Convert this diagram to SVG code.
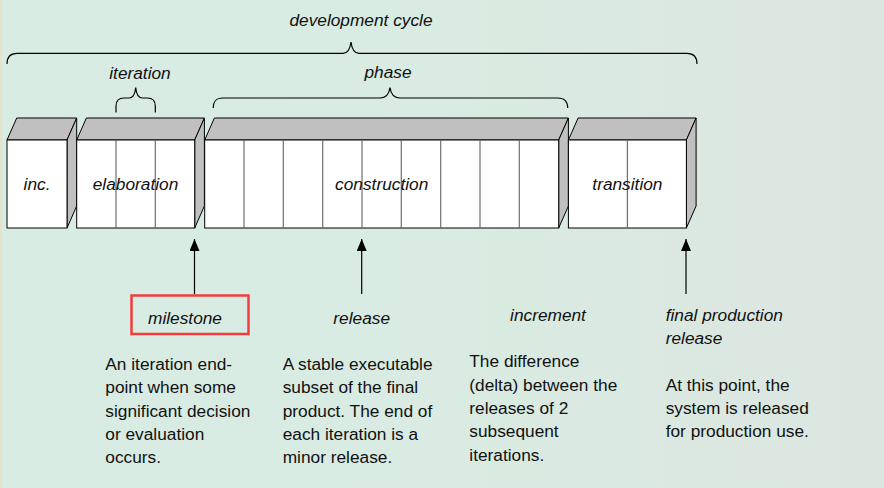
<svg xmlns="http://www.w3.org/2000/svg" width="884" height="488" viewBox="0 0 884 488">
<defs>
<linearGradient id="bg" x1="0" y1="0" x2="1" y2="0">
<stop offset="0" stop-color="#d8ece3"/>
<stop offset="0.5" stop-color="#d9ebe2"/>
<stop offset="1" stop-color="#dce6e0"/>
</linearGradient>
<marker id="arr" viewBox="0 0 12 10" refX="12" refY="5" markerWidth="12" markerHeight="10" markerUnits="userSpaceOnUse" orient="auto">
<path d="M0,0 L12,5 L0,10 Z" fill="#000"/>
</marker>
</defs>
<style>
.front{fill:#fff;stroke:#000;stroke-width:1}
.shade{fill:#c0c0c0;stroke:#000;stroke-width:1;stroke-linejoin:round}
.div{stroke:#6e6e6e;stroke-width:1.2}
.brace{fill:none;stroke:#000;stroke-width:1.2}
.lbl{font-family:"Liberation Sans",Arial,sans-serif;font-style:italic;font-size:17.3px;fill:#111}
.mid{text-anchor:middle}
.desc{font-family:"Liberation Sans",Arial,sans-serif;font-size:17.3px;fill:#111}
.conn{stroke:#000;stroke-width:1.2;fill:none}
</style>
<rect x="0" y="0" width="884" height="488" fill="url(#bg)"/>
<rect x="0" y="0" width="2" height="488" fill="#e6e4c8"/>

<g id="braces">
<path class="brace" d="M7,64 C7,57 10,53.3 17,53.3 L343,53.3 C347,53.3 350,50 351,42 C352,50 355,53.3 359,53.3 L687,53.3 C694,53.3 697,57 697,64"/>
<path class="brace" d="M116,112.5 L116,106 C116,101 118,98 124,98 L129,98 C133,98 135,95 135.7,87.5 C136.4,95 138.4,98 142.4,98 L147.3,98 C153.3,98 155.3,101 155.3,106 L155.3,112.5"/>
<path class="brace" d="M213.3,108 C213.3,101 216,98 223,98 L380,98 C385,98 389,95 390,87.5 C391,95 395,98 400,98 L557.7,98 C564.7,98 567.7,101 567.7,108"/>
</g>

<g id="labels-top">
<text class="lbl mid" x="361" y="26">development cycle</text>
<text class="lbl mid" x="140" y="79">iteration</text>
<text class="lbl mid" x="388" y="78">phase</text>
</g>

<g id="inc">
<polygon class="shade" points="7,140 16.7,118 76.7,118 67,140"/>
<polygon class="shade" points="67,140 76.7,118 76.7,206 67,228"/>
<rect class="front" x="7" y="140" width="60" height="88"/>
<text class="lbl mid" x="37" y="189.5">inc.</text>
</g>

<g id="elaboration">
<polygon class="shade" points="76.7,140 86.4,118 204.4,118 194.7,140"/>
<polygon class="shade" points="194.7,140 204.4,118 204.4,206 194.7,228"/>
<rect class="front" x="76.7" y="140" width="118" height="88"/>
<line class="div" x1="116" y1="140" x2="116" y2="228"/>
<line class="div" x1="155.3" y1="140" x2="155.3" y2="228"/>
<text class="lbl mid" x="135.5" y="189.5">elaboration</text>
</g>

<g id="construction">
<polygon class="shade" points="204.7,140 214.4,118 568.4,118 558.7,140"/>
<polygon class="shade" points="558.7,140 568.4,118 568.4,206 558.7,228"/>
<rect class="front" x="204.7" y="140" width="354" height="88"/>
<line class="div" x1="244" y1="140" x2="244" y2="228"/>
<line class="div" x1="283.3" y1="140" x2="283.3" y2="228"/>
<line class="div" x1="322.7" y1="140" x2="322.7" y2="228"/>
<line class="div" x1="362" y1="140" x2="362" y2="228"/>
<line class="div" x1="401.3" y1="140" x2="401.3" y2="228"/>
<line class="div" x1="440.7" y1="140" x2="440.7" y2="228"/>
<line class="div" x1="480" y1="140" x2="480" y2="228"/>
<line class="div" x1="519.3" y1="140" x2="519.3" y2="228"/>
<text class="lbl mid" x="381.7" y="189.5">construction</text>
</g>

<g id="transition">
<polygon class="shade" points="568.4,140 578.1,118 696.1,118 686.4,140"/>
<polygon class="shade" points="686.4,140 696.1,118 696.1,206 686.4,228"/>
<rect class="front" x="568.4" y="140" width="118" height="88"/>
<line class="div" x1="627.4" y1="140" x2="627.4" y2="228"/>
<text class="lbl mid" x="627.4" y="189.5">transition</text>
</g>

<g id="connectors">
<line class="conn" x1="194.5" y1="294" x2="194.5" y2="239" marker-end="url(#arr)"/>
<line class="conn" x1="361.7" y1="294" x2="361.7" y2="239" marker-end="url(#arr)"/>
<line class="conn" x1="686" y1="294" x2="686" y2="239" marker-end="url(#arr)"/>
</g>

<g id="milestone">
<rect x="131.5" y="295.5" width="117" height="38.5" fill="none" stroke="#f23c3c" stroke-width="2.5"/>
<text class="lbl mid" x="185" y="323.5">milestone</text>
<text class="desc" x="105.3"><tspan x="105.3" y="370">An iteration end-</tspan><tspan x="105.3" y="393.3">point when some</tspan><tspan x="105.3" y="416.7">significant decision</tspan><tspan x="105.3" y="440">or evaluation</tspan><tspan x="105.3" y="463.3">occurs.</tspan></text>
</g>

<g id="release">
<text class="lbl mid" x="361.7" y="323.5">release</text>
<text class="desc" x="282.7"><tspan x="282.7" y="370">A stable executable</tspan><tspan x="282.7" y="393.3">subset of the final</tspan><tspan x="282.7" y="416.7">product. The end of</tspan><tspan x="282.7" y="440">each iteration is a</tspan><tspan x="282.7" y="463.3">minor release.</tspan></text>
</g>

<g id="increment">
<text class="lbl mid" x="548" y="320.7">increment</text>
<text class="desc" x="469.3"><tspan x="469.3" y="367.3">The difference</tspan><tspan x="469.3" y="390.7">(delta) between the</tspan><tspan x="469.3" y="414">releases of 2</tspan><tspan x="469.3" y="437.3">subsequent</tspan><tspan x="469.3" y="460.7">iterations.</tspan></text>
</g>

<g id="final-release">
<text class="lbl" x="665.7"><tspan x="665.7" y="320.7">final production</tspan><tspan x="665.7" y="344.3">release</tspan></text>
<text class="desc" x="665.7"><tspan x="665.7" y="390.7">At this point, the</tspan><tspan x="665.7" y="414">system is released</tspan><tspan x="665.7" y="437.3">for production use.</tspan></text>
</g>
</svg>
